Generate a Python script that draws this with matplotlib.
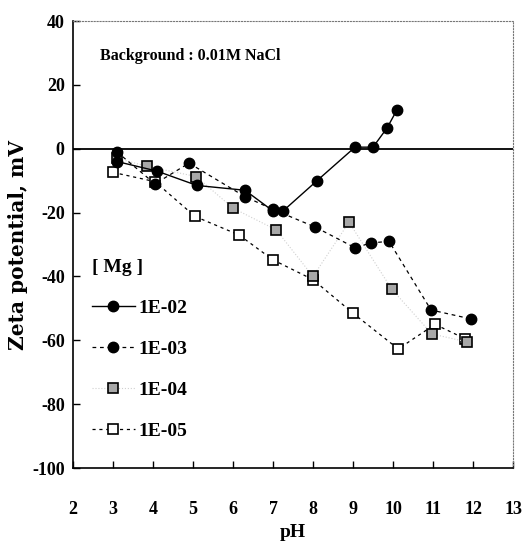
import matplotlib
matplotlib.use("Agg")
import matplotlib.pyplot as plt

# ---- data ----
ph_mg2 = [3.1, 4.1, 5.1, 6.3, 7.0, 7.25, 8.1, 9.05, 9.5, 9.85, 10.1]
zeta_mg2 = [-4, -7, -11.5, -13, -19.5, -19.5, -10, 0.5, 0.5, 6.5, 12.2]

ph_mg3 = [3.1, 4.05, 4.9, 6.3, 7.0, 8.05, 9.05, 9.45, 9.9, 10.95, 11.95]
zeta_mg3 = [-1, -11, -4.5, -15, -19, -24.5, -31, -29.5, -29, -50.5, -53.3]

ph_mg4 = [3.1, 3.85, 5.08, 6.0, 7.08, 8.0, 8.9, 9.97, 10.97, 11.85]
zeta_mg4 = [-3, -5.5, -8.7, -18.6, -25.4, -40, -23, -44, -58, -60.5]

ph_mg5 = [3.0, 4.05, 5.05, 6.15, 7.0, 8.0, 9.0, 10.13, 11.05, 11.8]
zeta_mg5 = [-7.4, -10.3, -21.2, -27, -34.8, -41, -51.5, -62.7, -55, -59.5]

series_labels = ["1E-02", "1E-03", "1E-04", "1E-05"]
x_ticks = list(range(2, 14))
y_ticks = list(range(-100, 41, 20))

# ---- figure ----
fig = plt.figure(figsize=(5.3, 5.54), dpi=100)
ax = fig.add_axes([0.1377, 0.1552, 0.8303, 0.8068])

tick_font = dict(family="Liberation Serif", weight="bold", size=13)

ax.axhline(0, color="black", lw=1.3, zorder=1)

ax.plot(ph_mg2, zeta_mg2, "-", color="black", lw=1.0, marker="o",
        ms=7.5, mfc="black", mec="black", label=series_labels[0], zorder=5)
ax.plot(ph_mg3, zeta_mg3, "--", color="black", lw=0.9, dashes=(3, 3), marker="o",
        ms=7.5, mfc="black", mec="black", label=series_labels[1], zorder=4)
ax.plot(ph_mg4, zeta_mg4, ":", color="#d0d0d0", lw=0.8, marker="s",
        ms=6.5, mfc="#a8a8a8", mec="black", mew=1.2, label=series_labels[2], zorder=3)
ax.plot(ph_mg5, zeta_mg5, "--", color="black", lw=0.9, dashes=(2.5, 3), marker="s",
        ms=7, mfc="white", mec="black", mew=1.2, label=series_labels[3], zorder=2)

ax.set_xlim(2, 13)
ax.set_ylim(-100, 40)
ax.set_xticks(x_ticks)
ax.set_yticks(y_ticks)
ax.set_xticklabels([str(v) for v in x_ticks], **tick_font)
ax.set_yticklabels([str(v) for v in y_ticks], **tick_font)
ax.tick_params(axis="x", direction="in", length=5, pad=24, width=1)
ax.tick_params(axis="y", direction="in", length=5, pad=6, width=1)

for s in ("top", "right"):
    ax.spines[s].set_linestyle(":")
    ax.spines[s].set_color("#777777")
    ax.spines[s].set_linewidth(0.8)
for s in ("left", "bottom"):
    ax.spines[s].set_color("black")
    ax.spines[s].set_linewidth(1.2)

ax.set_xlabel("pH", family="Liberation Serif", weight="bold", size=14, labelpad=4)
ax.set_ylabel("Zeta potential, mV", family="DejaVu Serif", weight="bold", size=14.5, labelpad=3)

ax.text(0.062, 0.922, "Background : 0.01M NaCl", transform=ax.transAxes,
        family="Liberation Serif", weight="bold", size=11.5, ha="left", va="center")

leg = ax.legend(loc="upper left", bbox_to_anchor=(0.025, 0.485), frameon=False,
                title="[ Mg ]", handlelength=2.2, handletextpad=0.2,
                labelspacing=1.2, borderaxespad=0,
                prop=dict(family="Liberation Serif", weight="bold", size=14))
leg.get_title().set_fontfamily("Liberation Serif")
leg.get_title().set_fontweight("bold")
leg.get_title().set_fontsize(14)
leg._legend_box.align = "left"

fig.savefig("out.png", dpi=100)
